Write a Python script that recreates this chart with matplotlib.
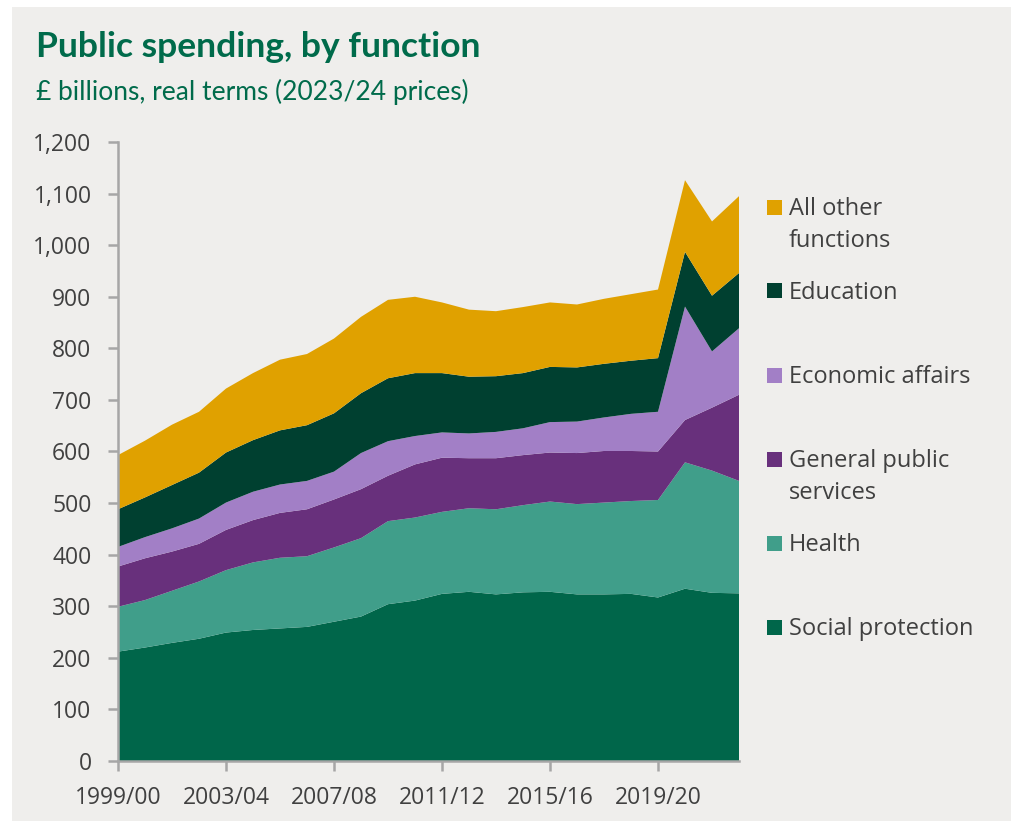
import numpy as np
import matplotlib
matplotlib.use("Agg")
import matplotlib.pyplot as plt
from matplotlib.patches import Rectangle

# £ billions, 2023/24 prices, by financial year
years = ["1999/00", "2000/01", "2001/02", "2002/03", "2003/04", "2004/05",
         "2005/06", "2006/07", "2007/08", "2008/09", "2009/10", "2010/11",
         "2011/12", "2012/13", "2013/14", "2014/15", "2015/16", "2016/17",
         "2017/18", "2018/19", "2019/20", "2020/21", "2021/22", "2022/23"]

social_protection = [212, 220, 229, 237, 249, 254, 257, 260, 270, 280, 304, 311,
                     324, 328, 323, 327, 328, 323, 323, 324, 317, 334, 326, 325]
health = [87, 92, 101, 111, 121, 131, 137, 137, 144, 152, 161, 161,
          159, 162, 165, 169, 175, 175, 178, 180, 189, 245, 237, 218]
general_public_services = [78, 81, 76, 73, 78, 82, 87, 91, 93, 95, 88, 103,
                           105, 97, 99, 97, 95, 99, 100, 97, 94, 82, 122, 167]
economic_affairs = [38, 41, 45, 49, 53, 55, 55, 55, 54, 70, 67, 55,
                    49, 48, 51, 52, 59, 61, 65, 72, 77, 220, 109, 129]
education = [73, 77, 84, 89, 97, 100, 105, 108, 113, 116, 122, 122,
             115, 110, 108, 107, 107, 105, 104, 103, 104, 106, 108, 107]
all_other = [105, 110, 117, 118, 124, 130, 137, 138, 145, 148, 152, 148,
             137, 130, 126, 128, 125, 122, 126, 129, 133, 139, 144, 149]

labels = ["Social protection", "Health", "General public\nservices",
          "Economic affairs", "Education", "All other\nfunctions"]
colors = ["#00664a", "#409e8a", "#68307c", "#a27fc6", "#004030", "#e0a100"]

tick_years = ["1999/00", "2003/04", "2007/08", "2011/12", "2015/16", "2019/20"]

BG = "#efeeec"
GREEN = "#006b4b"
TEXT = "#404040"
AXIS = "#a6a6a6"

W, H = 1011, 821
fig = plt.figure(figsize=(W / 100, H / 100), dpi=100)
fig.patch.set_facecolor("white")
fig.patches.append(Rectangle((12 / W, 0), 1, 814 / H, transform=fig.transFigure,
                             facecolor=BG, edgecolor="none", zorder=-10))

ax = fig.add_axes([118 / W, 1 - 761 / H, (739 - 118) / W, (761 - 142) / H])
ax.set_facecolor(BG)

x = np.arange(len(years))
ax.stackplot(x, social_protection, health, general_public_services,
             economic_affairs, education, all_other, colors=colors, linewidth=0)

ax.set_xlim(0, len(years) - 1)
ax.set_ylim(0, 1200)
ax.set_yticks(np.arange(0, 1201, 100))
ax.set_yticklabels([f"{v:,}" for v in range(0, 1201, 100)])
ax.set_xticks([years.index(t) for t in tick_years])
ax.set_xticklabels(tick_years)

for side in ["top", "right"]:
    ax.spines[side].set_visible(False)
for side in ["left", "bottom"]:
    ax.spines[side].set_color(AXIS)
    ax.spines[side].set_linewidth(1.8)
    ax.spines[side].set_zorder(5)

ax.tick_params(axis="both", colors=AXIS, width=1.8, length=7, labelcolor=TEXT,
               labelsize=16.5)
ax.tick_params(axis="y", pad=12)
ax.tick_params(axis="x", pad=11)
for lbl in ax.get_xticklabels() + ax.get_yticklabels():
    lbl.set_fontfamily("Open Sans")

fig.text(36 / W, 1 - 57 / H, "Public spending, by function", fontsize=25.5,
         fontweight="bold", color=GREEN, family="Lato", va="baseline")
fig.text(36 / W, 1 - 100 / H, "£ billions, real terms (2023/24 prices)", fontsize=19,
         color=GREEN, family="Lato", va="baseline")

# legend, top to bottom, with square swatches
legend_rows = [(207, 5), (291, 4), (375, 3), (459, 2), (543, 1), (627, 0)]
for yc, k in legend_rows:
    fig.patches.append(Rectangle((767 / W, 1 - (yc + 7.5) / H), 15 / W, 15 / H,
                                 transform=fig.transFigure, facecolor=colors[k],
                                 edgecolor="none"))
    for i, line in enumerate(labels[k].split("\n")):
        fig.text(789 / W, 1 - (yc + 8 + 32 * i) / H, line, fontsize=17,
                 color=TEXT, family="Open Sans", va="baseline")

fig.savefig("out.png", dpi=100, facecolor=fig.get_facecolor())
